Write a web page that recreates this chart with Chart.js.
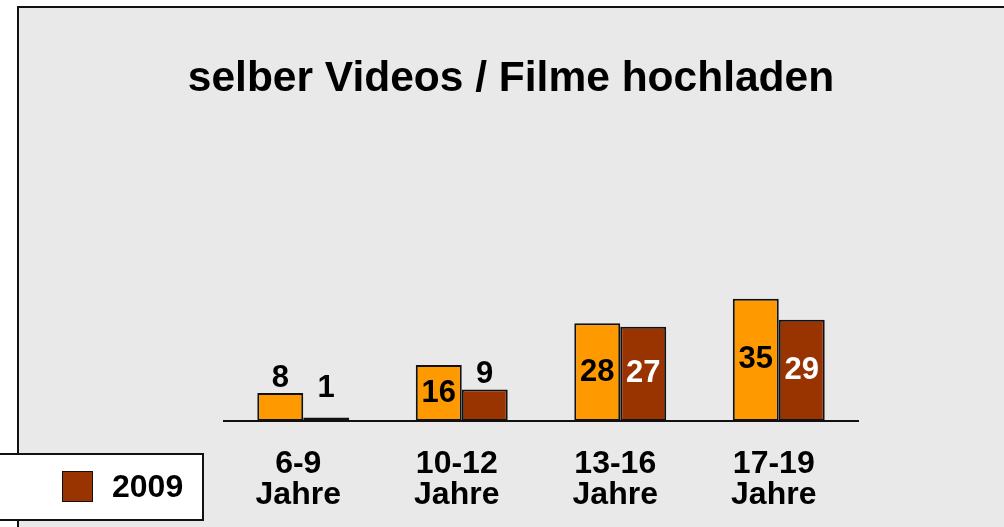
<!DOCTYPE html>
<html>
<head>
<meta charset="utf-8">
<script src="https://cdn.jsdelivr.net/npm/chart.js@4/dist/chart.umd.min.js"></script>
<style>
  html, body { margin: 0; padding: 0; background: #fff; }
  #wrap { width: 1004px; height: 527px; position: relative; }
</style>
</head>
<body>
<div id="wrap"><canvas id="grafica" width="1004" height="527"></canvas></div>
<script>
// datos
const titulo = 'selber Videos / Filme hochladen';
const categorias = [['6-9', 'Jahre'], ['10-12', 'Jahre'], ['13-16', 'Jahre'], ['17-19', 'Jahre']];
const serieNombres = ['2008', '2009'];
const valoresA = [8, 16, 28, 35];
const valoresB = [1, 9, 27, 29];
const colores = ['#FF9900', '#993300'];

const fuente = "'Liberation Sans', Arial, sans-serif";

// fondo gris con borde
const fondoPlugin = {
    id: 'fondo',
    beforeDraw(chart) {
        const ctx = chart.ctx;
        ctx.save();
        ctx.fillStyle = '#ffffff';
        ctx.fillRect(0, 0, chart.width, chart.height);
        ctx.fillStyle = '#E9E9E9';
        ctx.fillRect(18, 7, chart.width - 18, chart.height - 7);
        ctx.strokeStyle = '#111';
        ctx.lineWidth = 2;
        ctx.beginPath();
        ctx.moveTo(18, chart.height);
        ctx.lineTo(18, 7);
        ctx.lineTo(chart.width, 7);
        ctx.stroke();
        ctx.restore();
    }
};

// etiquetas de valores sobre / dentro de las barras
const etiquetasPlugin = {
    id: 'etiquetas',
    afterDatasetsDraw(chart) {
        const ctx = chart.ctx;
        const base = chart.scales.y.getPixelForValue(0);
        ctx.save();
        ctx.font = 'bold 31px ' + fuente;
        ctx.textAlign = 'center';
        ctx.textBaseline = 'middle';
        chart.data.datasets.forEach((ds, i) => {
            chart.getDatasetMeta(i).data.forEach((bar, j) => {
                const alto = base - bar.y;
                let y;
                let dentro = alto >= 40;
                if (dentro) {
                    y = bar.y + alto / 2;
                } else {
                    y = Math.min(bar.y - 15, base - 33);
                }
                ctx.fillStyle = (i === 1 && dentro) ? '#ffffff' : '#000000';
                ctx.fillText(String(ds.data[j]), bar.x, y);
            });
        });
        ctx.restore();
    }
};

// leyenda abajo a la izquierda (cortada)
const leyendaPlugin = {
    id: 'leyenda',
    afterDraw(chart) {
        const ctx = chart.ctx;
        ctx.save();
        ctx.fillStyle = '#ffffff';
        ctx.strokeStyle = '#111';
        ctx.lineWidth = 2;
        ctx.fillRect(-5, 454, 208, 66);
        ctx.strokeRect(-5, 454, 208, 66);
        ctx.fillStyle = chart.data.datasets[1].backgroundColor;
        ctx.fillRect(62, 471, 31, 31);
        ctx.lineWidth = 1;
        ctx.strokeRect(62.5, 471.5, 30, 30);
        ctx.fillStyle = '#000';
        ctx.font = 'bold 32px ' + fuente;
        ctx.textAlign = 'left';
        ctx.textBaseline = 'middle';
        ctx.fillText(chart.data.datasets[1].label, 112, 488);
        ctx.restore();
    }
};

const ctx = document.getElementById('grafica').getContext('2d');
const chart = new Chart(ctx, {
    type: 'bar',
    data: {
        labels: categorias,
        datasets: [{
            label: serieNombres[0],
            data: valoresA,
            backgroundColor: colores[0],
            borderColor: '#111',
            borderWidth: 2,
            borderSkipped: false
        }, {
            label: serieNombres[1],
            data: valoresB,
            backgroundColor: colores[1],
            borderColor: '#111',
            borderWidth: 2,
            borderSkipped: false
        }]
    },
    options: {
        responsive: false,
        animation: false,
        categoryPercentage: 0.58,
        barPercentage: 1.0,
        layout: {
            padding: { left: 164, right: 146, top: 43, bottom: 0 }
        },
        plugins: {
            legend: { display: false },
            tooltip: { enabled: false },
            title: {
                display: true,
                text: titulo,
                color: '#000',
                font: { family: fuente, size: 42.5, weight: 'bold', lineHeight: 1.2 },
                padding: { top: 11, bottom: 40 }
            }
        },
        scales: {
            x: {
                grid: { display: false, drawTicks: false },
                border: { display: true, color: '#111', width: 2 },
                ticks: {
                    color: '#000',
                    padding: 28,
                    labelOffset: -5,
                    font: { family: fuente, size: 32, weight: 'bold', lineHeight: 0.97 }
                },
                afterFit(scale) {
                    scale.height = 106;
                }
            },
            y: {
                display: true,
                min: 0,
                max: 79,
                grid: { display: false, drawTicks: false },
                border: { display: false },
                ticks: { display: false },
                // eje invisible, solo ocupa espacio a la izquierda
                afterFit(scale) {
                    scale.width = 60;
                }
            }
        }
    },
    plugins: [fondoPlugin, etiquetasPlugin, leyendaPlugin]
});
</script>
</body>
</html>
